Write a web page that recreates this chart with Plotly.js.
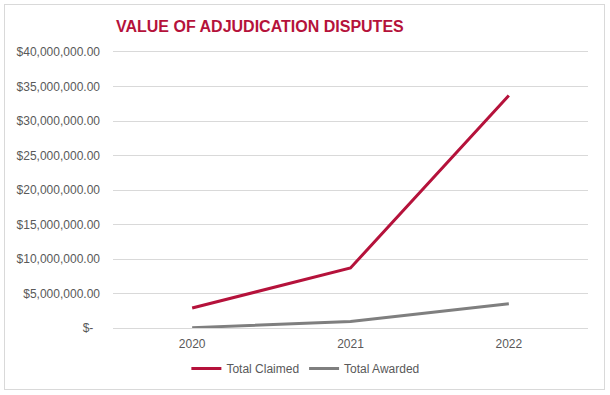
<!DOCTYPE html>
<html>
<head>
<meta charset="utf-8">
<script src="https://cdn.plot.ly/plotly-3.0.1.min.js"></script>
<style>
html,body{margin:0;padding:0;background:#fff;}
#chart{position:absolute;left:0;top:0;width:610px;height:395px;}
#frame{position:absolute;left:4px;top:4px;width:601px;height:386px;border:1px solid #d9d9d9;box-sizing:border-box;pointer-events:none;}
</style>
</head>
<body>
<div id="chart"></div>
<div id="frame"></div>
<script>
var years = ['2020', '2021', '2022'];
var totalClaimed = [2900000, 8700000, 33700000];
var totalAwarded = [50000, 950000, 3500000];
var yTickVals = [0, 5000000, 10000000, 15000000, 20000000, 25000000, 30000000, 35000000, 40000000];
var yTickText = ['$-\u00a0\u00a0', '$5,000,000.00', '$10,000,000.00', '$15,000,000.00', '$20,000,000.00',
                 '$25,000,000.00', '$30,000,000.00', '$35,000,000.00', '$40,000,000.00'];

var traces = [
  {x: years, y: totalClaimed, name: 'Total Claimed', type: 'scatter', mode: 'lines',
   line: {color: '#B5123B', width: 3}},
  {x: years, y: totalAwarded, name: 'Total Awarded', type: 'scatter', mode: 'lines',
   line: {color: '#7F7F7F', width: 3}}
];

var layout = {
  width: 610, height: 395,
  margin: {l: 113, r: 21.5, t: 52.3, b: 66.7, pad: 0},
  paper_bgcolor: 'rgba(0,0,0,0)', plot_bgcolor: 'rgba(0,0,0,0)',
  font: {family: '"Liberation Sans", Arial, sans-serif', size: 12, color: '#595959'},
  title: {text: '<b>VALUE OF ADJUDICATION DISPUTES</b>', x: 0.426, xanchor: 'center',
          xref: 'container', yref: 'container', y: 0.934, yanchor: 'middle',
          font: {size: 16, color: '#B5123B', family: '"Liberation Sans", Arial, sans-serif'}},
  xaxis: {type: 'category', range: [-0.5, 2.5], showgrid: false, zeroline: false,
          showline: true, mirror: true, linecolor: '#d9d9d9', linewidth: 1,
          ticks: '', ticklabelstandoff: 5, color: '#595959',
          tickfont: {size: 12, color: '#595959'}},
  yaxis: {range: [0, 40000000], tickvals: yTickVals, ticktext: yTickText,
          showgrid: true, gridcolor: '#d9d9d9', gridwidth: 1,
          zeroline: false, color: '#595959',
          showline: false, ticks: '', ticklabelstandoff: 12,
          tickfont: {size: 12, color: '#595959'}},
  showlegend: true,
  legend: {orientation: 'h', x: 0.405, xanchor: 'center', y: -0.147, yanchor: 'middle',
           font: {size: 12, color: '#595959'}, bgcolor: 'rgba(0,0,0,0)'}
};

Plotly.newPlot('chart', traces, layout, {displayModeBar: false, staticPlot: true}).then(function () {
  document.querySelectorAll('#chart .ytick text, #chart .xtick text').forEach(function (t) {
    t.style.fill = '#595959';
  });
});
</script>
</body>
</html>
